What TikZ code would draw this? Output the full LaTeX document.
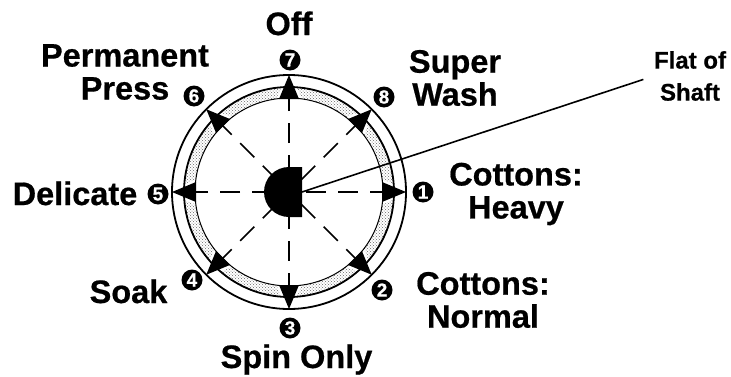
\documentclass[tikz,border=0pt]{standalone}
\usepackage{fontspec}
\setmainfont[BoldFeatures={FakeBold=0.6}]{Liberation Sans}
\usetikzlibrary{patterns,calc}
\tikzset{
  dial/.style={font=\fontsize{32.5}{33}\selectfont\bfseries,align=center,inner sep=0pt},
  small/.style={font=\fontsize{24}{32}\selectfont\bfseries,align=center,inner sep=0pt},
  num/.style={circle,fill=black,text=white,inner sep=0pt,minimum size=21pt,font=\fontsize{19}{19}\selectfont\bfseries},
  spoke/.style={line width=1.7pt,dash pattern=on 20pt off 12pt,dash phase=15pt},
  pointer/.style={fill=black,line join=miter}
}
\begin{document}
\begin{tikzpicture}[x=1pt,y=1pt,line cap=butt,line join=round]
  \useasboundingbox (0,0) rectangle (731,376);
  \coordinate (O) at (289,184);
  % band
  \fill[pattern=crosshatch dots,pattern color=black!60,even odd rule] (O) circle (105) (O) circle (94);
  \foreach \a in {0,45,...,315} {
    \draw[white,line width=5pt] ($(O)+(\a:116)$) -- ($(O)+(\a:93)+(\a+90:10)$) -- ($(O)+(\a:93)+(\a-90:10)$) -- cycle;
  }
  % rings
  \draw[line width=1.8pt] (O) circle (117);
  \draw[line width=1.8pt] (O) circle (105);
  \draw[line width=1pt] (O) circle (94);
  % spokes and pointers
  \foreach \n/\a in {1/0,2/-45,3/-90,4/-135,5/180,6/135,7/90,8/45} {
    \coordinate (tip\n) at ($(O)+(\a:117)$);
    \draw[spoke] (O) -- ($(O)+(\a:96)$);
    \fill[pointer] (tip\n) -- ($(O)+(\a:93)+(\a+90:10)$) -- ($(O)+(\a:93)+(\a-90:10)$) -- cycle;
  }
  % shaft
  \fill (302,209) -- (289,209) arc[start angle=90,end angle=270,radius=25] -- (302,159) -- cycle;
  \coordinate (shaft) at (302,184);
  % numbers
  \node[num] (n1) at (423,184) {1};
  \node[num] (n2) at (382,86) {2};
  \node[num] (n3) at (290,48) {3};
  \node[num] (n4) at (192,96) {4};
  \node[num] (n5) at (158,182) {5};
  \node[num] (n6) at (194,280) {6};
  \node[num] (n7) at (290,316) {7};
  \node[num] (n8) at (384,279) {8};
  % labels
  \node[dial,anchor=base] (off) at (289,341) {Off};
  \node[dial] (press) at (125,304) {Permanent\\Press};
  \node[dial] (wash) at (455,298) {Super\\Wash};
  \node[dial] (heavy) at (516,182) {Cottons:\\Heavy};
  \node[dial] (normal) at (483,76) {Cottons:\\Normal};
  \node[dial,anchor=base] (spin) at (296.5,8) {Spin Only};
  \node[dial,anchor=base] (delicate) at (75,171) {Delicate};
  \node[dial,anchor=base] (soak) at (128.5,73) {Soak};
  \node[small] (flat) at (690,300) {Flat of\\Shaft};
  \draw[line width=1.6pt,shorten >=11pt] (shaft) -- (flat.west);
\end{tikzpicture}
\end{document}
